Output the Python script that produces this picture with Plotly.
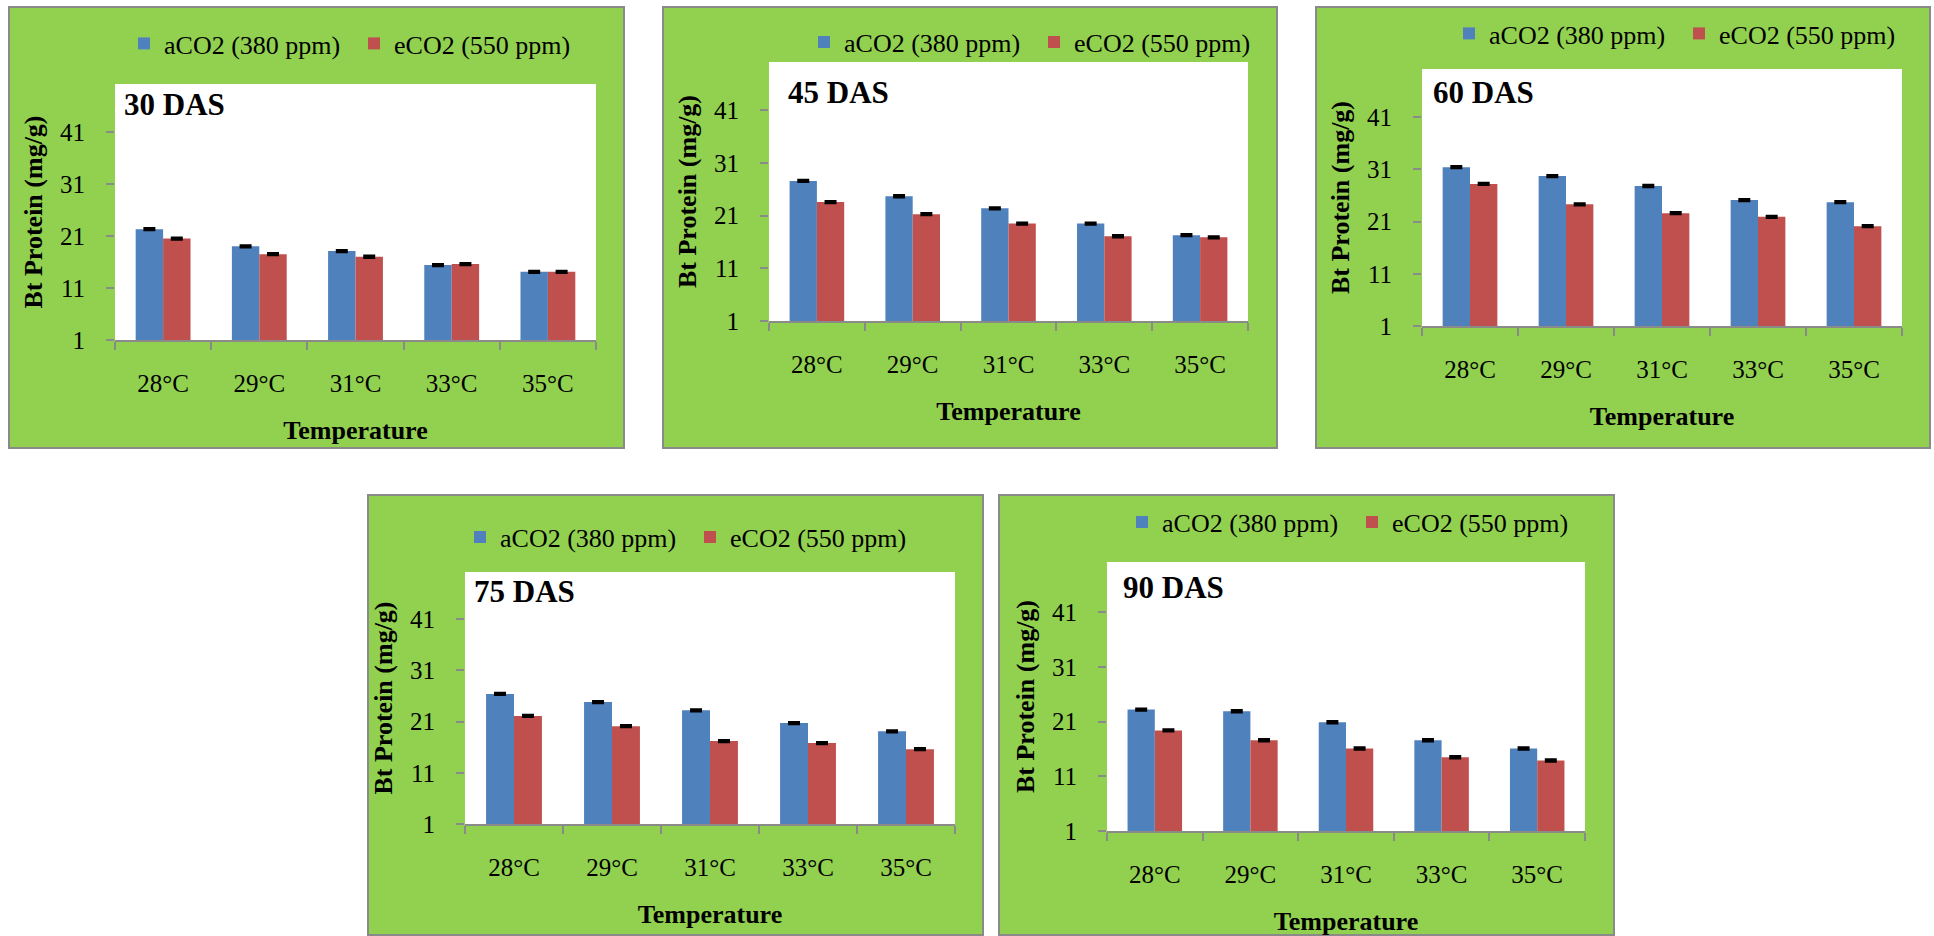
import plotly.graph_objects as go

W, H = 1934, 936

temperatures = ["28°C", "29°C", "31°C", "33°C", "35°C"]
y_ticks = [1, 11, 21, 31, 41]
y_range = [1, 50.2]

series_names = ["aCO2 (380 ppm)", "eCO2 (550 ppm)"]
series_colors = ["#4F81BD", "#C0504D"]

# Bt protein (mg/g) at each sampling date, ambient vs elevated CO2
das30_aco2 = [22.3, 19.0, 18.1, 15.4, 14.1]
das30_eco2 = [20.5, 17.5, 17.0, 15.6, 14.1]
das45_aco2 = [27.6, 24.7, 22.4, 19.5, 17.3]
das45_eco2 = [23.6, 21.3, 19.5, 17.1, 16.9]
das60_aco2 = [31.4, 29.7, 27.8, 25.1, 24.7]
das60_eco2 = [28.2, 24.3, 22.6, 21.9, 20.1]
das75_aco2 = [26.4, 24.8, 23.2, 20.7, 19.1]
das75_eco2 = [22.1, 20.1, 17.2, 16.8, 15.6]
das90_aco2 = [23.2, 22.9, 20.9, 17.6, 16.1]
das90_eco2 = [19.4, 17.6, 16.1, 14.5, 13.9]

# standard errors
se_aco2 = [0.2, 0.2, 0.2, 0.2, 0.2]
se_eco2 = [0.2, 0.2, 0.2, 0.2, 0.2]

panel_labels = ["30 DAS", "45 DAS", "60 DAS", "75 DAS", "90 DAS"]
panel_data = [
    (das30_aco2, das30_eco2),
    (das45_aco2, das45_eco2),
    (das60_aco2, das60_eco2),
    (das75_aco2, das75_eco2),
    (das90_aco2, das90_eco2),
]

# page geometry in pixels: outer box, plot area, label / legend anchors
panels = [
    dict(box=(9, 7, 624, 448), plot=(115, 84, 596, 340), tag=(122, 104), leg=(165, 41.5)),
    dict(box=(663, 7, 1277, 448), plot=(769, 62, 1248, 321), tag=(786, 92.5), leg=(845, 40)),
    dict(box=(1316, 7, 1930, 448), plot=(1422, 69, 1902, 326), tag=(1431, 92.5), leg=(1490, 31.5)),
    dict(box=(368, 495, 983, 935), plot=(465, 572, 955, 824), tag=(472, 591), leg=(501, 535)),
    dict(box=(999, 495, 1614, 935), plot=(1107, 562, 1585, 831), tag=(1121, 587.5), leg=(1163, 520)),
]

SERIF = "Liberation Serif"
GREEN = "#92D050"
GREY = "#8A8A8A"

fig = go.Figure()
shapes = []
annotations = []
layout = dict(
    width=W, height=H, autosize=False,
    margin=dict(l=0, r=0, t=0, b=0, autoexpand=False),
    paper_bgcolor="white", plot_bgcolor="white",
    barmode="group", bargap=0.43, bargroupgap=0,
    font=dict(family=SERIF, color="black"),
)

def px(x):
    return x / W

def py(y):
    return 1 - y / H

for i, (p, (a_vals, e_vals), label) in enumerate(zip(panels, panel_data, panel_labels), start=1):
    sfx = "" if i == 1 else str(i)
    legend_name = "legend" + sfx
    bx0, by0, bx1, by1 = p["box"]
    l, t, r, b = p["plot"]

    shapes.append(dict(type="rect", xref="paper", yref="paper", layer="below",
                       x0=px(bx0), x1=px(bx1), y0=py(by1), y1=py(by0),
                       fillcolor=GREEN, line=dict(color=GREY, width=2)))
    shapes.append(dict(type="rect", xref="paper", yref="paper", layer="below",
                       x0=px(l), x1=px(r), y0=py(b), y1=py(t),
                       fillcolor="white", line=dict(width=0)))

    for vals, err, name, color in zip((a_vals, e_vals), (se_aco2, se_eco2), series_names, series_colors):
        fig.add_trace(go.Bar(
            x=temperatures, y=vals, name=name, marker=dict(color=color, line=dict(width=0)),
            error_y=dict(type="data", array=err, color="black", thickness=2.2, width=6),
            xaxis="x" + sfx, yaxis="y" + sfx, legend=legend_name, showlegend=True,
        ))

    layout["xaxis" + sfx] = dict(
        domain=[px(l), px(r)], anchor="y" + sfx, type="category", automargin=False,
        range=[-0.5, 4.5], showgrid=False, zeroline=False,
        showline=True, linecolor=GREY, linewidth=1.5,
        ticks="outside", tickson="boundaries", ticklen=8, tickcolor=GREY, tickwidth=1.5,
        tickfont=dict(family=SERIF, size=25, color="black"), ticklabelstandoff=20,
        title=dict(text="<b>Temperature</b>", font=dict(family=SERIF, size=26, color="black"), standoff=25),
        fixedrange=True,
    )
    layout["yaxis" + sfx] = dict(
        domain=[py(b), py(t)], anchor="x" + sfx, range=y_range, automargin=False,
        tickvals=y_ticks, showgrid=False, zeroline=False, showline=False,
        ticks="outside", ticklen=8, tickcolor=GREY, tickwidth=1.5,
        tickfont=dict(family=SERIF, size=25, color="black"), ticklabelstandoff=16,
        title=dict(text="<b>Bt Protein (mg/g)</b>", font=dict(family=SERIF, size=26, color="black"), standoff=9),
        fixedrange=True,
    )
    lx, ly = p["leg"]
    layout[legend_name] = dict(
        orientation="h", x=px(lx - 41), y=py(ly + 2), xanchor="left", yanchor="middle",
        bgcolor="rgba(0,0,0,0)", borderwidth=0, entrywidth=185, entrywidthmode="pixels",
        font=dict(family=SERIF, size=26, color="black"),
    )
    tx, ty = p["tag"]
    annotations.append(dict(text="<b>" + label + "</b>", xref="paper", yref="paper",
                            x=px(tx), y=py(ty), xanchor="left", yanchor="middle", showarrow=False,
                            font=dict(family=SERIF, size=31, color="black")))

layout["shapes"] = shapes
layout["annotations"] = annotations
fig.update_layout(**layout)

fig.write_html("out.html")
